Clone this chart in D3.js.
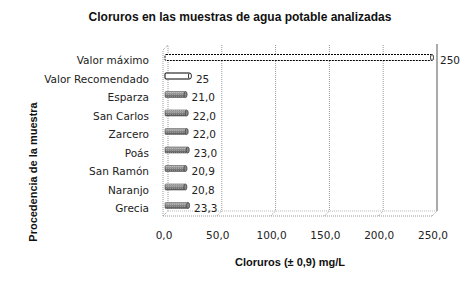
<!DOCTYPE html>
<html>
<head>
<meta charset="utf-8">
<script src="https://cdn.jsdelivr.net/npm/d3@7"></script>
<style>
  body { margin: 0; background: #fff; }
  svg { display: block; }
</style>
</head>
<body>
<script>
const categories = ["Valor máximo", "Valor Recomendado", "Esparza", "San Carlos", "Zarcero", "Poás", "San Ramón", "Naranjo", "Grecia"];
const values = [250, 25, 21.0, 22.0, 22.0, 23.0, 20.9, 20.8, 23.3];
const valueLabels = ["250", "25", "21,0", "22,0", "22,0", "23,0", "20,9", "20,8", "23,3"];
const ticks = [0, 50, 100, 150, 200, 250];

const W = 475, H = 281;
const depth = 5; // 3d offset

const svg = d3.select("body").append("svg")
    .attr("width", W)
    .attr("height", H);

// cylinder shading + a light dotted texture like the original
const defs = svg.append("defs");
const grad = defs.append("linearGradient")
    .attr("id", "cyl").attr("x1", 0).attr("y1", 0).attr("x2", 0).attr("y2", 1);
grad.append("stop").attr("offset", "0%").attr("stop-color", "#b5b5b5");
grad.append("stop").attr("offset", "50%").attr("stop-color", "#878787");
grad.append("stop").attr("offset", "100%").attr("stop-color", "#555");
const pat = defs.append("pattern")
    .attr("id", "dots").attr("width", 2).attr("height", 2)
    .attr("patternUnits", "userSpaceOnUse");
pat.append("rect").attr("width", 1).attr("height", 1).attr("fill", "#fff").attr("opacity", 0.25);

// Scales
const x = d3.scaleLinear().domain([0, 250]).range([163, 432]);
const y = d3.scaleBand().domain(categories).range([51.25, 217.75]);

const floorY = 216;
const topY = 50;

// Back wall gridlines (dotted)
const grid = svg.append("g");
grid.selectAll("line.grid")
    .data(ticks.slice(1, 5))
    .enter().append("line")
        .attr("x1", (d) => x(d) + depth)
        .attr("x2", (d) => x(d) + depth)
        .attr("y1", topY - depth)
        .attr("y2", floorY - depth)
        .attr("stroke", "#999")
        .attr("stroke-dasharray", "1,1");
// floor diagonals at ticks
grid.selectAll("line.diag")
    .data(ticks.slice(1, 5))
    .enter().append("line")
        .attr("x1", (d) => x(d))
        .attr("x2", (d) => x(d) + depth)
        .attr("y1", floorY)
        .attr("y2", floorY - depth)
        .attr("stroke", "#999")
        .attr("stroke-dasharray", "1,1");

// right back line (solid)
svg.append("line")
    .attr("x1", x(250) + depth).attr("x2", x(250) + depth)
    .attr("y1", topY - depth - 1).attr("y2", floorY - depth)
    .attr("stroke", "#aaa").attr("stroke-width", 2);
svg.append("line")
    .attr("x1", x(250)).attr("x2", x(250) + depth)
    .attr("y1", floorY).attr("y2", floorY - depth)
    .attr("stroke", "#999").attr("stroke-dasharray", "1,1");

// left wall
svg.append("path")
    .attr("d", `M${x(0)},${floorY} L${x(0)},${topY} L${x(0) + depth},${topY - depth} L${x(0) + depth},${floorY - depth} L${x(0)},${floorY}`)
    .attr("fill", "none").attr("stroke", "#999").attr("stroke-dasharray", "1,1");

// floor
svg.append("line")
    .attr("x1", x(0)).attr("x2", x(250))
    .attr("y1", floorY).attr("y2", floorY)
    .attr("stroke", "#999").attr("stroke-dasharray", "1,1");
svg.append("line")
    .attr("x1", x(0) + depth).attr("x2", x(250) + depth)
    .attr("y1", floorY - depth).attr("y2", floorY - depth)
    .attr("stroke", "#bbb").attr("stroke-dasharray", "1,1");

// Bars (horizontal cylinders)
const barH = 6;
const barY = (d) => y(d) + y.bandwidth() / 2 - 3;
const bars = svg.append("g").selectAll("g.bar")
    .data(categories)
    .enter().append("g")
        .attr("class", "bar");

bars.append("rect")
    .attr("x", x(0) + 2)
    .attr("y", (d) => barY(d) - barH / 2)
    .attr("width", (d, i) => x(values[i]) - x(0) - 2)
    .attr("height", barH)
    .attr("rx", 1)
    .attr("fill", (d, i) => i < 2 ? "#fff" : "url(#cyl)")
    .attr("stroke", (d, i) => i < 2 ? "#000" : "#555")
    .attr("stroke-width", (d, i) => i < 2 ? 1 : 0.6)
    .attr("stroke-dasharray", (d, i) => i === 0 ? "2,1" : null);

bars.filter((d, i) => i >= 2).append("rect")
    .attr("x", x(0) + 2)
    .attr("y", (d) => barY(d) - barH / 2)
    .attr("width", (d) => x(values[categories.indexOf(d)]) - x(0) - 2)
    .attr("height", barH)
    .attr("fill", "url(#dots)");

bars.append("ellipse")
    .attr("cx", (d, i) => x(values[i]))
    .attr("cy", (d) => barY(d))
    .attr("rx", 1.5)
    .attr("ry", barH / 2)
    .attr("fill", (d, i) => i < 2 ? "#fff" : "#8a8a8a")
    .attr("stroke", (d, i) => i < 2 ? "#000" : "#444")
    .attr("stroke-width", 0.8);

// Value labels
svg.append("g").selectAll("text")
    .data(categories)
    .enter().append("text")
        .attr("x", (d, i) => x(values[i]) + (i === 0 ? 8 : 6))
        .attr("y", (d) => y(d) + y.bandwidth() / 2)
        .attr("dy", "0.35em")
        .attr("font-family", "DejaVu Sans")
        .attr("font-size", "10.5px")
        .attr("fill", "#222")
        .text((d, i) => valueLabels[i]);

// Category axis labels
svg.append("g").selectAll("text")
    .data(categories)
    .enter().append("text")
        .attr("x", 149)
        .attr("y", (d) => y(d) + y.bandwidth() / 2)
        .attr("dy", "0.35em")
        .attr("text-anchor", "end")
        .attr("font-family", "DejaVu Sans")
        .attr("font-size", "10.5px")
        .attr("fill", "#222")
        .text((d) => d);

// X tick labels
svg.append("g").selectAll("text")
    .data(ticks)
    .enter().append("text")
        .attr("x", (d) => x(d) + 1)
        .attr("y", 235)
        .attr("dy", "0.35em")
        .attr("text-anchor", "middle")
        .attr("font-family", "DejaVu Sans")
        .attr("font-size", "10.5px")
        .attr("fill", "#222")
        .text((d) => d3.format(".1f")(d).replace(".", ","));

// Title
svg.append("text")
    .attr("x", 240)
    .attr("y", 17)
    .attr("dy", "0.35em")
    .attr("text-anchor", "middle")
    .attr("font-family", "Liberation Sans")
    .attr("font-weight", "bold")
    .attr("font-size", "12px")
    .attr("fill", "#111")
    .text("Cloruros en las muestras de agua potable analizadas");

// Axis titles
svg.append("text")
    .attr("transform", "translate(33,172) rotate(-90)")
    .attr("dy", "0.35em")
    .attr("text-anchor", "middle")
    .attr("font-family", "Liberation Sans")
    .attr("font-weight", "bold")
    .attr("font-size", "11px")
    .attr("fill", "#111")
    .text("Procedencia de la muestra");

svg.append("text")
    .attr("x", 290)
    .attr("y", 262)
    .attr("dy", "0.35em")
    .attr("text-anchor", "middle")
    .attr("font-family", "Liberation Sans")
    .attr("font-weight", "bold")
    .attr("font-size", "11px")
    .attr("fill", "#111")
    .text("Cloruros (± 0,9) mg/L");
</script>
</body>
</html>
